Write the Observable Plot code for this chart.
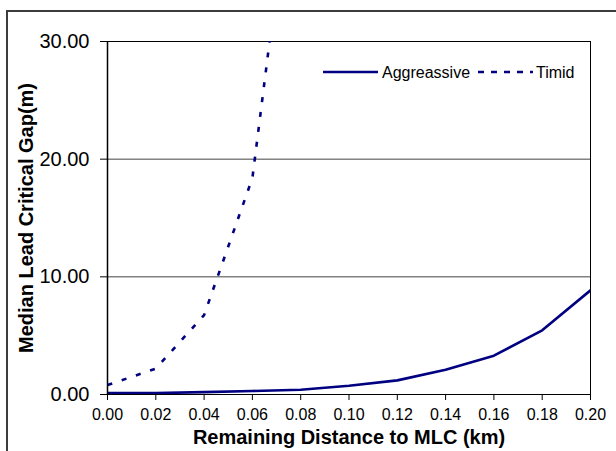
<!DOCTYPE html>
<html>
<head>
<meta charset="utf-8">
<script src="https://cdn.jsdelivr.net/npm/d3@7"></script>
<script src="https://cdn.jsdelivr.net/npm/@observablehq/plot@0.6"></script>
<style>
  html, body { margin: 0; padding: 0; background: #fff; }
  #wrap { position: relative; width: 616px; height: 451px; overflow: hidden; font-family: "Liberation Sans", Arial, sans-serif; }
  #border { position: absolute; left: 6px; top: 10px; width: 700px; height: 600px; border: 2px solid #3c3c3c; box-sizing: border-box; }
  #chart { position: absolute; left: 0; top: 0; }
  #legend { position: absolute; left: 0; top: 0; }
  g[aria-label="y-axis label"] text, g[aria-label="x-axis label"] text { font-size: 20px; font-weight: bold; }
</style>
</head>
<body>
<div id="wrap"><div id="border"></div><div id="chart"></div><svg id="legend" width="616" height="451"></svg></div>
<script>
// Data
const distance = [0.00, 0.02, 0.04, 0.06, 0.08, 0.10, 0.12, 0.14, 0.16, 0.18, 0.20];
const aggressive = [0.12, 0.12, 0.2, 0.3, 0.4, 0.75, 1.2, 2.1, 3.3, 5.45, 8.85];
const timidDistance = [0.00, 0.02, 0.04, 0.06, 0.08];
const timid = [0.8, 2.2, 6.75, 18.4, 51.0];
const yTicks = [0, 10, 20, 30];
const xTicks = [0.00, 0.02, 0.04, 0.06, 0.08, 0.10, 0.12, 0.14, 0.16, 0.18, 0.20];
const seriesNames = ["Aggreassive", "Timid"];

const aggData = distance.map((d, i) => ({x: d, y: aggressive[i]}));
const timData = timidDistance.map((d, i) => ({x: d, y: timid[i]}));
const navy = "#000080";

const plot = Plot.plot({
  width: 616,
  height: 451,
  marginLeft: 107,
  marginRight: 26,
  marginTop: 41,
  marginBottom: 57,
  style: {fontFamily: "'Liberation Sans', Arial, sans-serif", background: "transparent", color: "#000"},
  x: {domain: [0, 0.2]},
  y: {domain: [0, 30]},
  marks: [
    Plot.ruleY([10, 20], {stroke: "#444", strokeWidth: 1}),
    Plot.ruleY([30], {stroke: "#000", strokeWidth: 1}),
    Plot.ruleX([0.2], {stroke: "#000", strokeWidth: 1}),
    Plot.axisY({ticks: yTicks, tickFormat: d => d.toFixed(2), tickSize: 7, tickPadding: 11, fontSize: 20, label: null, stroke: "#000"}),
    Plot.axisX({ticks: xTicks, tickFormat: d => d.toFixed(2), tickSize: 6, tickPadding: 8, fontSize: 16, label: null}),
    Plot.axisY({ticks: [], label: "Median Lead Critical Gap(m)", labelAnchor: "center", labelArrow: "none", labelOffset: 89}),
    Plot.axisX({ticks: [], label: "Remaining Distance to MLC (km)", labelAnchor: "center", labelArrow: "none", labelOffset: 49}),
    Plot.line(timData, {x: "x", y: "y", stroke: navy, strokeWidth: 2.6, strokeDasharray: "5,10", strokeLinecap: "butt", clip: true}),
    Plot.line(aggData, {x: "x", y: "y", stroke: navy, strokeWidth: 2.6, clip: true}),
    Plot.ruleX([0], {stroke: "#000", strokeWidth: 1.5}),
    Plot.ruleY([0], {stroke: "#000", strokeWidth: 1})
  ]
});
document.getElementById("chart").appendChild(plot);

// Legend inside the plot area
const lg = d3.select("#legend");
const items = [
  {name: seriesNames[0], x: 323, dash: null},
  {name: seriesNames[1], x: 478, dash: "6,7"}
];
const textX = [382, 536];
items.forEach((it, i) => {
  lg.append("line").attr("x1", it.x).attr("x2", it.x + 55).attr("y1", 72).attr("y2", 72)
    .attr("stroke", navy).attr("stroke-width", 2.6).attr("stroke-dasharray", it.dash);
  lg.append("text").attr("x", textX[i]).attr("y", 78).attr("font-size", 16)
    .attr("font-family", "'Liberation Sans', Arial, sans-serif").attr("fill", "#000").text(it.name);
});
</script>
</body>
</html>
